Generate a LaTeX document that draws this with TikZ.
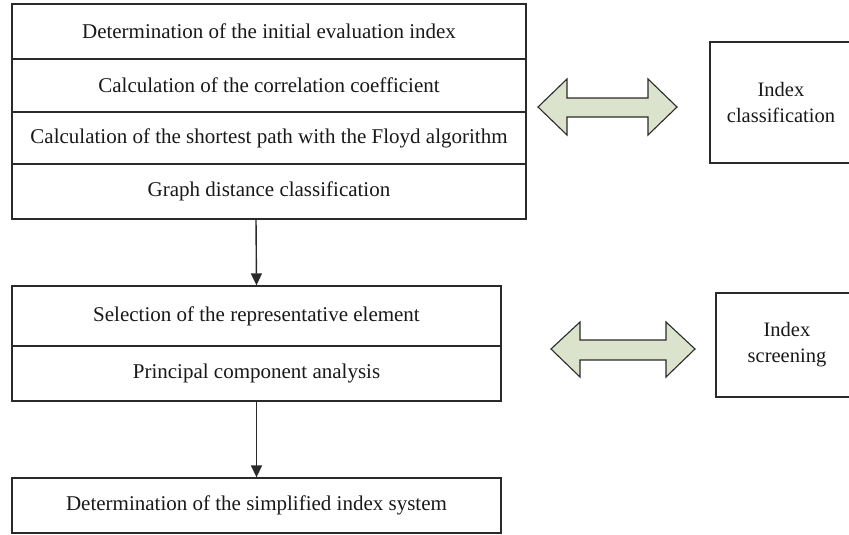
\documentclass[tikz,border=0pt]{standalone}
\usepackage{fontspec}
\setmainfont{Liberation Serif}
\usetikzlibrary{arrows.meta}
\definecolor{linec}{HTML}{2A2A2A}
\definecolor{arrowfill}{HTML}{DCE3CD}
\tikzset{
  rowbox/.style={draw=linec, line width=1.3pt, fill=white, inner sep=0pt, text=black!90, font=\fontsize{21}{25}\selectfont},
  sidebox/.style={draw=linec, line width=1.3pt, fill=white, inner sep=0pt, align=center, text=black!90, font=\fontsize{20.5}{26}\selectfont},
  flow/.style={draw=linec, line width=1.4pt, -{Triangle[length=12pt,width=11pt]}},
  bigarrow/.style={draw=linec, line width=1.1pt, fill=arrowfill, line join=miter}
}
\begin{document}
\begin{tikzpicture}[x=1pt,y=-1pt]
\useasboundingbox (0,0) rectangle (849,535);
% top group
\node[rowbox, minimum width=514pt, minimum height=55pt] (r1) at (269,31.5) {Determination of the initial evaluation index};
\node[rowbox, minimum width=514pt, minimum height=53pt] (r2) at (269,85.5) {Calculation of the correlation coefficient};
\node[rowbox, minimum width=514pt, minimum height=52pt] (r3) at (269,138) {Calculation of the shortest path with the Floyd algorithm};
\node[rowbox, minimum width=514pt, minimum height=55pt] (r4) at (269,191.5) {Graph distance classification};
% middle group
\node[rowbox, minimum width=489pt, minimum height=60pt] (m1) at (256.5,316) {Selection of the representative element};
\node[rowbox, minimum width=489pt, minimum height=55pt] (m2) at (256.5,373.5) {Principal component analysis};
% bottom
\node[rowbox, minimum width=489pt, minimum height=55pt] (b1) at (256.5,505.5) {Determination of the simplified index system};
% side boxes
\node[sidebox, minimum width=142pt, minimum height=121pt] (ic) at (781,102.5) {Index\\classification};
\node[sidebox, minimum width=142pt, minimum height=104pt] (is) at (787,345) {Index\\screening};
% vertical connectors
\coordinate (t1) at (256,219);
\draw[flow] (t1) -- (m1.north);
\draw[flow] (m2.south) -- (b1.north);
% block double arrows
\draw[bigarrow] (538,107) -- (567,79) -- (567,98) -- (648,98) -- (648,79) -- (677,107)
  -- (648,135) -- (648,117) -- (567,117) -- (567,135) -- cycle;
\draw[bigarrow] (551,349) -- (580,322) -- (580,340) -- (666,340) -- (666,322) -- (695,349)
  -- (666,377) -- (666,360) -- (580,360) -- (580,377) -- cycle;
\end{tikzpicture}
\end{document}
